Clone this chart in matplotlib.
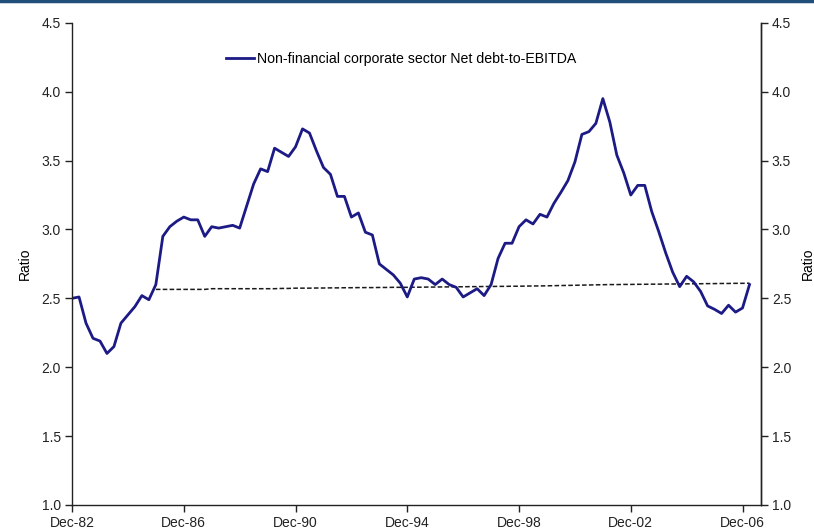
import matplotlib
matplotlib.use('Agg')
import matplotlib.pyplot as plt
from matplotlib.lines import Line2D
from matplotlib.ticker import FormatStrFormatter

plt.rcParams['font.family'] = ['Liberation Sans', 'DejaVu Sans']

# quarterly, Dec-82 (index 0) .. Mar-07
net_debt_ebitda = [
    2.50, 2.51, 2.32, 2.21, 2.19, 2.10, 2.15, 2.32, 2.38, 2.44,
    2.52, 2.49, 2.60, 2.95, 3.02, 3.06, 3.09, 3.07, 3.07, 2.95,
    3.02, 3.01, 3.02, 3.03, 3.01, 3.17, 3.33, 3.44, 3.42, 3.59,
    3.56, 3.53, 3.60, 3.73, 3.70, 3.57, 3.45, 3.40, 3.24, 3.24,
    3.09, 3.12, 2.98, 2.96, 2.75, 2.71, 2.67, 2.61, 2.51, 2.64,
    2.65, 2.64, 2.60, 2.64, 2.60, 2.58, 2.51, 2.54, 2.57, 2.52,
    2.60, 2.79, 2.90, 2.90, 3.02, 3.07, 3.04, 3.11, 3.09, 3.19,
    3.27, 3.355, 3.49, 3.69, 3.71, 3.77, 3.95, 3.78, 3.54, 3.41,
    3.25, 3.32, 3.32, 3.13, 2.985, 2.83, 2.69, 2.585, 2.66, 2.62,
    2.55, 2.445, 2.42, 2.39, 2.45, 2.40, 2.43, 2.60,
]

# long-run average, from Dec-85 (index 12) onwards
avg_start = 12
long_run_avg = [
    2.565, 2.565, 2.565, 2.565, 2.565, 2.565, 2.565, 2.565, 2.570, 2.570,
    2.570, 2.570, 2.570, 2.570, 2.570, 2.570, 2.570, 2.570, 2.572, 2.572,
    2.574, 2.574, 2.574, 2.575, 2.575, 2.576, 2.576, 2.577, 2.577, 2.578,
    2.578, 2.578, 2.579, 2.579, 2.580, 2.580, 2.580, 2.581, 2.581, 2.582,
    2.582, 2.583, 2.583, 2.584, 2.584, 2.585, 2.585, 2.586, 2.586, 2.587,
    2.587, 2.588, 2.588, 2.589, 2.590, 2.590, 2.591, 2.592, 2.593, 2.594,
    2.595, 2.596, 2.597, 2.598, 2.599, 2.600, 2.600, 2.601, 2.601, 2.602,
    2.602, 2.603, 2.603, 2.604, 2.604, 2.605, 2.605, 2.606, 2.606, 2.607,
    2.607, 2.608, 2.608, 2.609, 2.609, 2.610,
]

tick_pos = [0, 16, 32, 48, 64, 80, 96]
tick_labels = ['Dec-82', 'Dec-86', 'Dec-90', 'Dec-94', 'Dec-98', 'Dec-02', 'Dec-06']
y_ticks = [1.0, 1.5, 2.0, 2.5, 3.0, 3.5, 4.0, 4.5]

fig = plt.figure(figsize=(8.14, 5.31), dpi=100)
ax = fig.add_axes([0.0885, 0.049, 0.846, 0.908])

x = list(range(len(net_debt_ebitda)))
x_avg = list(range(avg_start, avg_start + len(long_run_avg)))

ax.plot(x_avg, long_run_avg, color='#1a1a1a', lw=1.1, ls=(0, (3, 1.5)))
ax.plot(x, net_debt_ebitda, color='#1c1a85', lw=2.0,
        label='Non-financial corporate sector Net debt-to-EBITDA')

ax.set_xlim(0, 98.6)
ax.set_ylim(1.0, 4.5)
ax.set_yticks(y_ticks)
ax.yaxis.set_major_formatter(FormatStrFormatter('%.1f'))
ax.set_xticks(tick_pos)
ax.set_xticklabels(tick_labels)

ax.spines['top'].set_visible(False)
for s in ['left', 'right', 'bottom']:
    ax.spines[s].set_linewidth(1.0)
    ax.spines[s].set_color('#222222')

ax.tick_params(axis='both', direction='out', length=5, width=1.0,
               labelsize=10, colors='#222222', pad=3)
ax.set_ylabel('Ratio', fontsize=10, labelpad=7)

# right-hand axis mirrors the left one
ax2 = ax.twinx()
ax2.set_ylim(1.0, 4.5)
ax2.set_yticks(y_ticks)
ax2.yaxis.set_major_formatter(FormatStrFormatter('%.1f'))
for s in ['top', 'left', 'bottom']:
    ax2.spines[s].set_visible(False)
ax2.spines['right'].set_linewidth(1.0)
ax2.spines['right'].set_color('#222222')
ax2.tick_params(axis='y', direction='out', length=5, width=1.0,
                labelsize=10, colors='#222222', pad=3)
ax2.set_ylabel('Ratio', fontsize=10, labelpad=7)

ax.legend(loc='upper center', bbox_to_anchor=(0.478, 0.966), frameon=False,
          fontsize=10.2, handlelength=2.0, handletextpad=0.2)

# thin banner line along top edge
fig.add_artist(Line2D([0, 1], [0.998, 0.998], transform=fig.transFigure,
                      color='#1f4e79', lw=2.5))

plt.savefig('out.png', dpi=100)
plt.close()
